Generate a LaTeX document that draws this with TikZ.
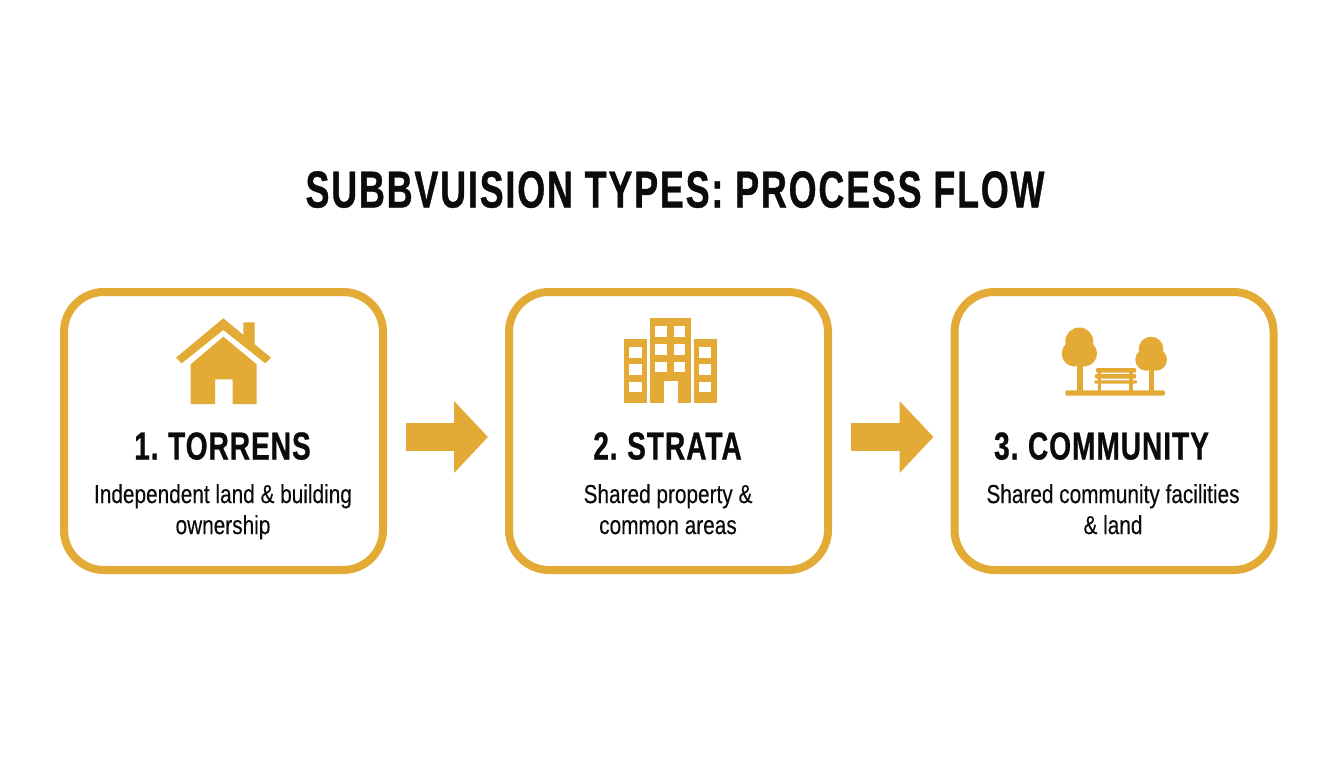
\documentclass[tikz,border=0pt]{standalone}
\usepackage{fontspec}
\usetikzlibrary{arrows.meta}
\setmainfont{Liberation Sans}
\newfontfamily\headfont[FakeStretch=0.69,FakeBold=0.7,LetterSpace=3.5]{Liberation Sans Bold}
\newfontfamily\subheadfont[FakeStretch=0.72,FakeBold=0.7,LetterSpace=2.5,WordSpace=0.75]{Liberation Sans Bold}
\newfontfamily\bodyfont[FakeStretch=0.80,FakeBold=0.25]{Liberation Sans}
\definecolor{gold}{HTML}{E3AB36}
\definecolor{ink}{HTML}{0B0B0B}
\tikzset{
  card/.style={draw=gold,fill=white,line width=8pt,rounded corners=40pt,minimum width=319pt,minimum height=278pt,inner sep=0pt},
  titletext/.style={text=ink,inner sep=0pt,anchor=base,font=\headfont\fontsize{52}{52}\selectfont},
  cardhead/.style={text=ink,inner sep=0pt,anchor=base,font=\subheadfont\fontsize{39}{39}\selectfont},
  carddesc/.style={text=ink,inner sep=0pt,anchor=north,align=center,font=\bodyfont\fontsize{26}{31}\selectfont},
  flowarrow/.style={draw=gold,line width=28pt,-{Triangle[length=34pt,width=70pt]}},
  icon/.style={fill=gold,draw=none},
  hole/.style={fill=white,draw=none}
}
\begin{document}
\begin{tikzpicture}[x=1pt,y=-1pt]
\useasboundingbox[fill=white] (0,0) rectangle (1344,768);
\node[titletext] (title) at (675,207.5) {SUBBVUISION TYPES: PROCESS FLOW};
\node[card] (torrens) at (223.5,431) {};
\node[card] (strata) at (668.5,431) {};
\node[card] (community) at (1114,431) {};
\draw[flowarrow,shorten <=19pt,shorten >=17pt] ([yshift=-6pt]torrens.east) -- ([yshift=-6pt]strata.west);
\draw[flowarrow,shorten <=19pt,shorten >=17pt] ([yshift=-6pt]strata.east) -- ([yshift=-6pt]community.west);
% house
\fill[icon] (243.3,340) -- (243.3,322.3) -- (254.7,322.3) -- (254.7,350) -- cycle;
\fill[icon] (176,357.7) -- (223.3,318.3) -- (271,357.7) -- (265.3,363.3) -- (223.3,330) -- (181.7,363.3) -- cycle;
\fill[icon] (223.3,336.7) -- (256.7,364.3) -- (256.7,404) -- (232.7,404) -- (232.7,379.3) -- (215,379.3) -- (215,404) -- (190.7,404) -- (190.7,364.3) -- cycle;
% buildings
\fill[icon] (650,318.3) rectangle (690.7,403.3);
\fill[icon] (623.7,339.3) rectangle (646.7,403.3);
\fill[icon] (693.7,339.3) rectangle (716.7,403.3);
\foreach \wy in {326,344.3,361.7}{
  \fill[hole] (655.3,\wy) rectangle ++(12,10.6);
  \fill[hole] (673.7,\wy) rectangle ++(11.6,10.6);
}
\fill[hole] (664,381) rectangle (677.7,403.3);
\foreach \wy in {347,364,381.7}{
  \fill[hole] (629.3,\wy) rectangle ++(12.4,10.6);
  \fill[hole] (699.3,\wy) rectangle ++(11.7,10.6);
}
% park
\fill[icon,rounded corners=1.5pt] (1065.3,390.3) rectangle (1165,395.7);
\fill[icon] (1076.7,360) rectangle (1082.7,392);
\fill[icon] (1079.3,341.5) circle[radius=14];
\fill[icon] (1074.7,353.5) circle[radius=13];
\fill[icon] (1084,353.5) circle[radius=13];
\fill[icon] (1148.7,365) rectangle (1154,392);
\fill[icon] (1151,349) circle[radius=12.3];
\fill[icon] (1146.3,359.7) circle[radius=11];
\fill[icon] (1156,359.7) circle[radius=11];
\fill[icon] (1097.7,368) rectangle (1101.3,392);
\fill[icon] (1129,368) rectangle (1132.7,392);
\fill[icon,rounded corners=1pt] (1096,368) rectangle (1136,372.7);
\fill[icon,rounded corners=1pt] (1095,374) rectangle (1136,378.7);
\fill[icon,rounded corners=1pt] (1094.3,380.3) rectangle (1137,383.7);
% labels
\node[cardhead] (h1) at (222.5,459.5) {1. TORRENS};
\node[cardhead] (h2) at (667.5,459.5) {2. STRATA};
\node[cardhead] (h3) at (1101.5,459.5) {3. COMMUNITY};
\node[carddesc] (d1) at (223,484) {Independent land \& building\\ownership};
\node[carddesc] (d2) at (668,484) {Shared property \&\\common areas};
\node[carddesc] (d3) at (1113,484) {Shared community facilities\\\& land};
\end{tikzpicture}
\end{document}
